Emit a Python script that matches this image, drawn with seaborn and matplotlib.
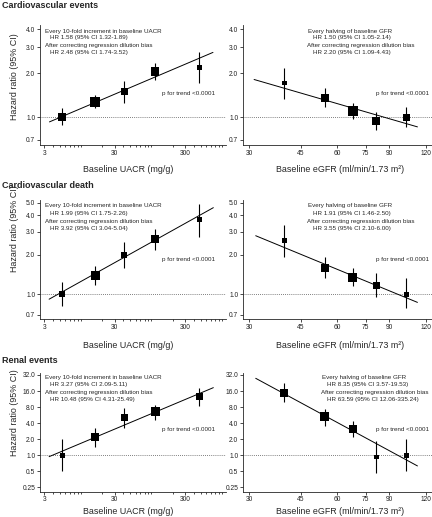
import matplotlib
matplotlib.use('Agg')
import matplotlib.pyplot as plt
import seaborn as sns
import pandas as pd
import numpy as np
from matplotlib.ticker import FixedLocator, NullLocator, FixedFormatter

# ---- data ----
row_titles = ["Cardiovascular events", "Cardiovascular death", "Renal events"]

uacr_groups = [5.4, 15.9, 41.3, 113, 477]      # mg/g
egfr_groups = [39.6, 54.4, 67.7, 81.5, 103]    # ml/min/1.73 m2

# hazard ratios, lower / upper CI, box size (relative weight)
uacr_hr = [[1.0, 1.28, 1.49, 2.05, 2.19],
           [1.0, 1.39, 2.0, 2.65, 3.69],
           [1.0, 2.17, 5.06, 6.47, 12.5]]
uacr_lo = [[0.886, 1.16, 1.26, 1.80, 1.72],
           [0.81, 1.17, 1.58, 2.18, 2.76],
           [0.5, 1.41, 3.19, 4.58, 8.4]]
uacr_hi = [[1.16, 1.42, 1.77, 2.36, 2.8],
           [1.25, 1.65, 2.52, 3.15, 4.88],
           [2.0, 3.28, 7.8, 8.75, 18.5]]
uacr_box = [[8, 10, 7, 8.5, 5],
            [6, 9, 6, 8, 5],
            [5, 8, 7, 9, 7]]

egfr_hr = [[1.71, 1.36, 1.11, 0.95, 1.0],
           [2.57, 1.60, 1.35, 1.18, 1.0],
           [14.5, 5.28, 3.1, 0.92, 1.0]]
egfr_lo = [[1.33, 1.18, 0.98, 0.82, 0.86],
           [1.92, 1.33, 1.15, 0.95, 0.79],
           [9.85, 3.58, 2.17, 0.46, 0.5]]
egfr_hi = [[2.16, 1.58, 1.25, 1.08, 1.18],
           [3.38, 1.92, 1.60, 1.45, 1.33],
           [22.3, 7.36, 4.38, 1.85, 2.0]]
egfr_box = [[4.5, 8, 10, 8, 7],
            [5, 8, 9, 7, 5],
            [8, 9, 8, 4.5, 5]]

# trend line end points
uacr_trend_x = [[3.57, 751], [3.53, 760], [3.53, 760]]
uacr_trend_y = [[0.93, 2.77], [0.92, 4.58], [0.94, 18.5]]
egfr_trend_x = [[31.2, 112.4], [31.6, 112.4], [31.6, 112.4]]
egfr_trend_y = [[1.81, 0.86], [2.80, 0.87], [27.7, 0.63]]

uacr_notes = [["HR 1.58 (95% CI 1.32-1.89)", "HR 2.48 (95% CI 1.74-3.52)"],
              ["HR 1.99 (95% CI 1.75-2.26)", "HR 3.92 (95% CI 3.04-5.04)"],
              ["HR 3.27 (95% CI 2.09-5.11)", "HR 10.48 (95% CI 4.31-25.49)"]]
egfr_notes = [["HR 1.50 (95% CI 1.05-2.14)", "HR 2.20 (95% CI 1.09-4.43)"],
              ["HR 1.91 (95% CI 1.46-2.50)", "HR 3.55 (95% CI 2.10-6.00)"],
              ["HR 8.35 (95% CI 3.57-19.53)", "HR 63.59 (95% CI 12.06-335.24)"]]

y_ticks = [[0.7, 1, 2, 3, 4],
           [0.7, 1, 2, 3, 4, 5],
           [0.25, 0.5, 1, 2, 4, 8, 16, 32]]
y_tick_labels = [["0.7", "1.0", "2.0", "3.0", "4.0"],
                 ["0.7", "1.0", "2.0", "3.0", "4.0", "5.0"],
                 ["0.25", "0.5", "1.0", "2.0", "4.0", "8.0", "16.0", "32.0"]]
uacr_ticks = [3, 30, 300]
uacr_minor = [4, 5, 6, 7, 8, 9, 10, 20, 40, 50, 60, 70, 80, 90, 100, 200,
              400, 500, 600, 700, 800, 900, 1000]
egfr_ticks = [30, 45, 60, 75, 90, 120]

# ---- layout (pixels of the 432x517 reference) ----
W, H = 432, 517
row_px = [(25, 145), (200, 319), (372.7, 491.7)]
y_lims = [(0.647, 4.26), (0.65, 5.24), (0.207, 35.3)]
notes_y = [(31, 37.5, 45.5, 52.3), (206, 213, 221.7, 228.3), (377.5, 384.3, 392.5, 400)]
ptrend_y = [93, 260, 429]
title_y = [6, 185, 360.7]
ylabel_y = [77, 229, 413]
xlabel_y = [170, 345, 511]
right_note_x = [(307.7, 312.7), (307.7, 312.7), (322, 327)]

sns.set_style("ticks")
plt.rcParams['font.family'] = ['Liberation Sans', 'DejaVu Sans']
plt.rcParams['axes.linewidth'] = 0.6

fig = plt.figure(figsize=(W / 100, H / 100), dpi=100)


def ftext(x, y, s, **kw):
    fig.text(x / W, 1 - y / H, s, **kw)


def draw_panel(ax, xs, hr, lo, hi, box, tx, ty):
    df = pd.DataFrame({"x": xs, "hr": hr, "lo": lo, "hi": hi})
    # box side in px -> area in pt^2
    df["area"] = (np.array(box) * 72 / 100) ** 2
    ax.axhline(1.0, ls=(0, (1, 1.5)), color="#555555", lw=0.6, zorder=1)
    ax.vlines(df["x"], df["lo"], df["hi"], color="black", lw=0.8, zorder=2)
    trend = pd.DataFrame({"x": tx, "y": ty})
    sns.lineplot(data=trend, x="x", y="y", ax=ax, color="black", lw=0.7, zorder=3)
    a0, a1 = df["area"].min(), df["area"].max()
    sns.scatterplot(data=df, x="x", y="hr", size="area", sizes=(a0, a1),
                    size_norm=(a0, a1), marker="s", color="black",
                    edgecolor="none", legend=False, ax=ax, zorder=4)
    ax.set_xlabel("")
    ax.set_ylabel("")


for r in range(3):
    top, bot = row_px[r]
    y0 = 1 - bot / H
    h = (bot - top) / H
    axl = fig.add_axes([40 / W, y0, 186 / W, h])
    axr = fig.add_axes([243 / W, y0, 189 / W, h])

    draw_panel(axl, uacr_groups, uacr_hr[r], uacr_lo[r], uacr_hi[r], uacr_box[r],
               uacr_trend_x[r], uacr_trend_y[r])
    draw_panel(axr, egfr_groups, egfr_hr[r], egfr_lo[r], egfr_hi[r], egfr_box[r],
               egfr_trend_x[r], egfr_trend_y[r])

    for ax in (axl, axr):
        ax.set_xscale("log")
        ax.set_yscale("log")
        ax.set_ylim(*y_lims[r])
        ax.yaxis.set_major_locator(FixedLocator(y_ticks[r]))
        ax.yaxis.set_major_formatter(FixedFormatter(y_tick_labels[r]))
        ax.yaxis.set_minor_locator(NullLocator())
        ax.tick_params(which="both", direction="out", width=0.5, labelsize=4.8,
                       pad=1.2, colors="black", labelcolor="#222222")
        ax.tick_params(which="major", length=2.2)
        ax.tick_params(which="minor", length=1.6)
        sns.despine(ax=ax)

    axl.set_xlim(2.62, 1150)
    axl.xaxis.set_major_locator(FixedLocator(uacr_ticks))
    axl.xaxis.set_major_formatter(FixedFormatter([str(t) for t in uacr_ticks]))
    axl.xaxis.set_minor_locator(FixedLocator(uacr_minor))
    axl.xaxis.set_minor_formatter(FixedFormatter([""] * len(uacr_minor)))

    axr.set_xlim(28.6, 126)
    axr.xaxis.set_major_locator(FixedLocator(egfr_ticks))
    axr.xaxis.set_major_formatter(FixedFormatter([str(t) for t in egfr_ticks]))
    axr.xaxis.set_minor_locator(NullLocator())

    # annotations
    ny = notes_y[r]
    nfs = 4.5
    ftext(45, ny[0], "Every 10-fold increment in baseline UACR", fontsize=nfs, va="center")
    ftext(50, ny[1], uacr_notes[r][0], fontsize=nfs, va="center")
    ftext(45, ny[2], "After correcting regression dilution bias", fontsize=nfs, va="center")
    ftext(50, ny[3], uacr_notes[r][1], fontsize=nfs, va="center")
    rx0, rx1 = right_note_x[r]
    ftext(rx0, ny[0], "Every halving of baseline GFR", fontsize=nfs, va="center")
    ftext(rx1, ny[1], egfr_notes[r][0], fontsize=nfs, va="center")
    ftext(rx0 - 1, ny[2], "After correcting regression dilution bias", fontsize=nfs, va="center")
    ftext(rx1, ny[3], egfr_notes[r][1], fontsize=nfs, va="center")
    ftext(162, ptrend_y[r], "p for trend <0.0001", fontsize=nfs, va="center")
    ftext(375.5, ptrend_y[r], "p for trend <0.0001", fontsize=nfs, va="center")

    ftext(2, title_y[r], row_titles[r], fontsize=6.5, fontweight="bold", va="center")
    ftext(15, ylabel_y[r], "Hazard ratio (95% CI)", fontsize=6.4, rotation=90,
          ha="center", va="center")
    ftext(128, xlabel_y[r], "Baseline UACR (mg/g)", fontsize=6.4, ha="center", va="center")
    ftext(340, xlabel_y[r], "Baseline eGFR (ml/min/1.73 m²)", fontsize=6.4,
          ha="center", va="center")

fig.savefig("out.png", dpi=100)
